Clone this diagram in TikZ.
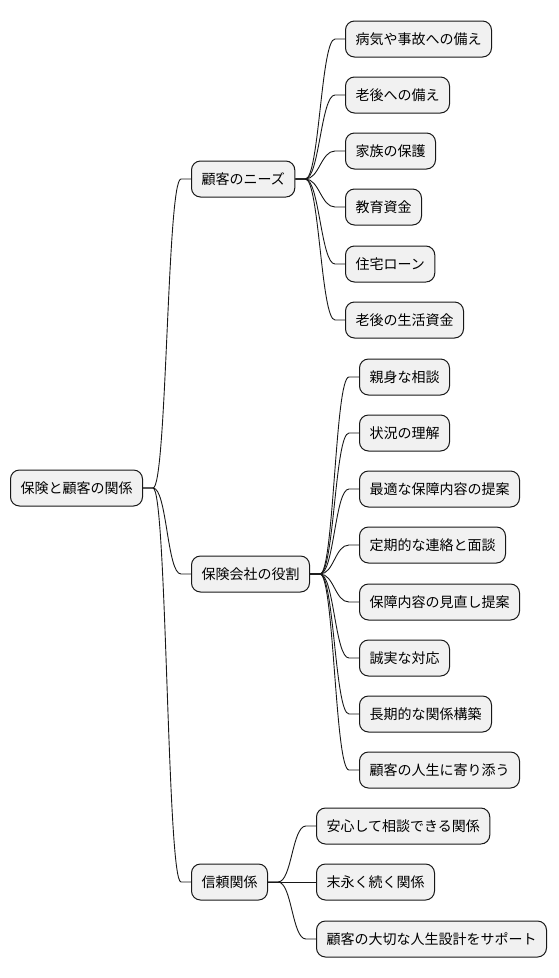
\documentclass[tikz,border=0pt]{standalone}
\usepackage{fontspec}
\setmainfont{Noto Sans CJK JP}
\usepackage{xcolor}
\usetikzlibrary{positioning,calc}
\definecolor{nodefill}{RGB}{241,241,241}
\definecolor{nodeline}{RGB}{24,24,24}

\begin{document}
\begin{tikzpicture}[x=1pt, y=-1pt,
  topic/.style={draw=nodeline, fill=nodefill, rounded corners=9pt, line width=1pt,
    minimum height=36pt, inner xsep=10pt, anchor=west, font=\fontsize{14pt}{16pt}\selectfont},
  link/.style={line width=0.9pt, nodeline, to path={-- ++(10pt,0)
    .. controls +(14pt,0) and +(-14pt,0) .. ([xshift=-10pt]\tikztotarget)
    -- (\tikztotarget)}},
]
  \useasboundingbox (0,0) rectangle (558,978);

  % root and first level
  \node[topic] (root) at (10,488) {保険と顧客の関係};
  \node[topic] (needs) at (191,179) {顧客のニーズ};
  \node[topic] (role) at (191,574) {保険会社の役割};
  \node[topic] (trust) at (191,882) {信頼関係};

  % customer needs
  \node[topic] (n1) at (345,39) {病気や事故への備え};
  \node[topic] (n2) at (345,95) {老後への備え};
  \node[topic] (n3) at (345,151) {家族の保護};
  \node[topic] (n4) at (345,207) {教育資金};
  \node[topic] (n5) at (345,264) {住宅ローン};
  \node[topic] (n6) at (345,320) {老後の生活資金};

  % role of the insurer
  \node[topic] (r1) at (359,377) {親身な相談};
  \node[topic] (r2) at (359,433) {状況の理解};
  \node[topic] (r3) at (359,489) {最適な保障内容の提案};
  \node[topic] (r4) at (359,545) {定期的な連絡と面談};
  \node[topic] (r5) at (359,602) {保障内容の見直し提案};
  \node[topic] (r6) at (359,658) {誠実な対応};
  \node[topic] (r7) at (359,714) {長期的な関係構築};
  \node[topic] (r8) at (359,770) {顧客の人生に寄り添う};

  % trust
  \node[topic] (t1) at (316,826) {安心して相談できる関係};
  \node[topic] (t2) at (316,882) {末永く続く関係};
  \node[topic] (t3) at (316,939) {顧客の大切な人生設計をサポート};

  \draw[link] (root.east) to (needs.west);
  \draw[link] (root.east) to (role.west);
  \draw[link] (root.east) to (trust.west);

  \foreach \c in {n1,n2,n3,n4,n5,n6}
    \draw[link] (needs.east) to (\c.west);
  \foreach \c in {r1,r2,r3,r4,r5,r6,r7,r8}
    \draw[link] (role.east) to (\c.west);
  \foreach \c in {t1,t2,t3}
    \draw[link] (trust.east) to (\c.west);
\end{tikzpicture}
\end{document}
